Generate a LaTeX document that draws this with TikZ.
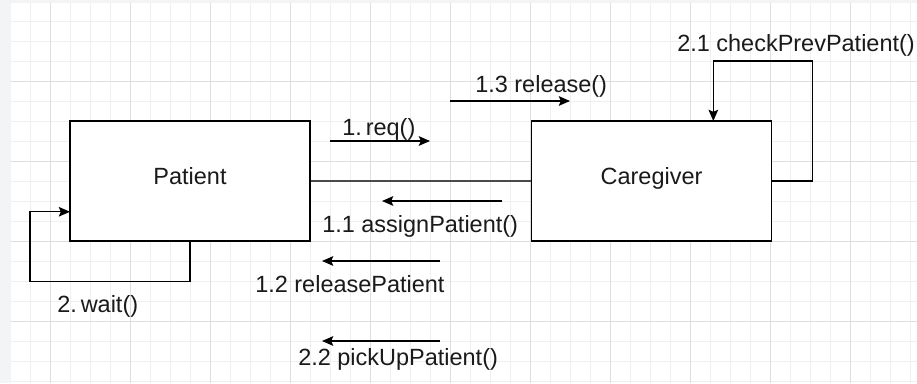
\documentclass[tikz,border=0pt]{standalone}
\usepackage{fontspec}
\setmainfont{Liberation Sans}
\usetikzlibrary{positioning,arrows.meta}
\definecolor{pagebg}{HTML}{F3F4F6}
\definecolor{gridmajor}{HTML}{DEDEDE}
\definecolor{gridminor}{HTML}{EFEFEF}
\definecolor{ink}{HTML}{1A1A1A}
\definecolor{linkgray}{HTML}{4A4A4A}

\begin{document}
\begin{tikzpicture}[
    box/.style={draw=black, line width=1.1pt, fill=white, minimum width=6cm, minimum height=3cm, inner sep=0pt, text height=0.72em, text depth=0.21em, text=ink},
    msg/.style={line width=1pt, -{Stealth[length=0.28cm, width=0.24cm, inset=0.05cm]}},
    lbl/.style={anchor=base west, inner sep=0pt, text=ink},
    font=\fontsize{16.7}{19}\selectfont
  ]
  % canvas with grid
  \useasboundingbox (0,0) rectangle (22.925,9.575);
  \fill[pagebg] (0,0) rectangle (22.925,9.575);
  \fill[white] (0.275,0) rectangle (22.925,9.5);
  \foreach \x in {0.75,1.25,...,22.8} \draw[gridminor, line width=0.6pt] (\x,0) -- (\x,9.5);
  \foreach \y in {0.05,0.55,...,9.5} \draw[gridminor, line width=0.6pt] (0.275,\y) -- (22.925,\y);
  \foreach \x in {1.25,3.25,...,22.8} \draw[gridmajor, line width=0.7pt] (\x,0) -- (\x,9.5);
  \foreach \y in {1.55,3.55,...,9.5} \draw[gridmajor, line width=0.7pt] (0.275,\y) -- (22.925,\y);

  % objects
  \node[box] (patient) at (4.75,5.05) {Patient};
  \node[box, right=5.5cm of patient] (caregiver) {Caregiver};
  \draw[linkgray, line width=1.8pt] (patient) -- (caregiver);

  % self loops
  \draw[msg] (caregiver.east) -- ++(1,0) -- ++(0,3) -- ++(-2.475,0) -- ++(0,-1.5);
  \draw[msg] (patient.south) -- ++(0,-1) -- ++(-4,0) -- ++(0,1.75) -- ++(1,0);

  % message arrows
  \coordinate (reqA) at (8.25,6.05);
  \coordinate (reqB) at (10.75,6.05);
  \coordinate (relA) at (11.25,7.05);
  \coordinate (relB) at (14.25,7.05);
  \coordinate (asgA) at (12.55,4.55);
  \coordinate (asgB) at (9.55,4.55);
  \coordinate (rpA) at (11,3.05);
  \coordinate (rpB) at (8.05,3.05);
  \coordinate (pupA) at (11,1.05);
  \coordinate (pupB) at (8.05,1.05);
  \draw[msg] (reqA) -- (reqB);
  \draw[msg] (relA) -- (relB);
  \draw[msg] (asgA) -- (asgB);
  \draw[msg] (rpA) -- (rpB);
  \draw[msg] (pupA) -- (pupB);

  % labels
  \node[lbl] (lreq) at (8.55,6.2) {1.\,req()};
  \node[lbl] (lrel) at (11.875,7.275) {1.3 release()};
  \node[lbl] (lchk) at (16.925,8.275) {2.1 checkPrevPatient()};
  \node[lbl] (lasg) at (8.05,3.775) {1.1 assignPatient()};
  \node[lbl] (lrp) at (6.375,2.275) {1.2 releasePatient};
  \node[lbl] (lwait) at (1.425,1.775) {2.\,wait()};
  \node[lbl] (lpup) at (7.45,0.45) {2.2 pickUpPatient()};
\end{tikzpicture}
\end{document}
